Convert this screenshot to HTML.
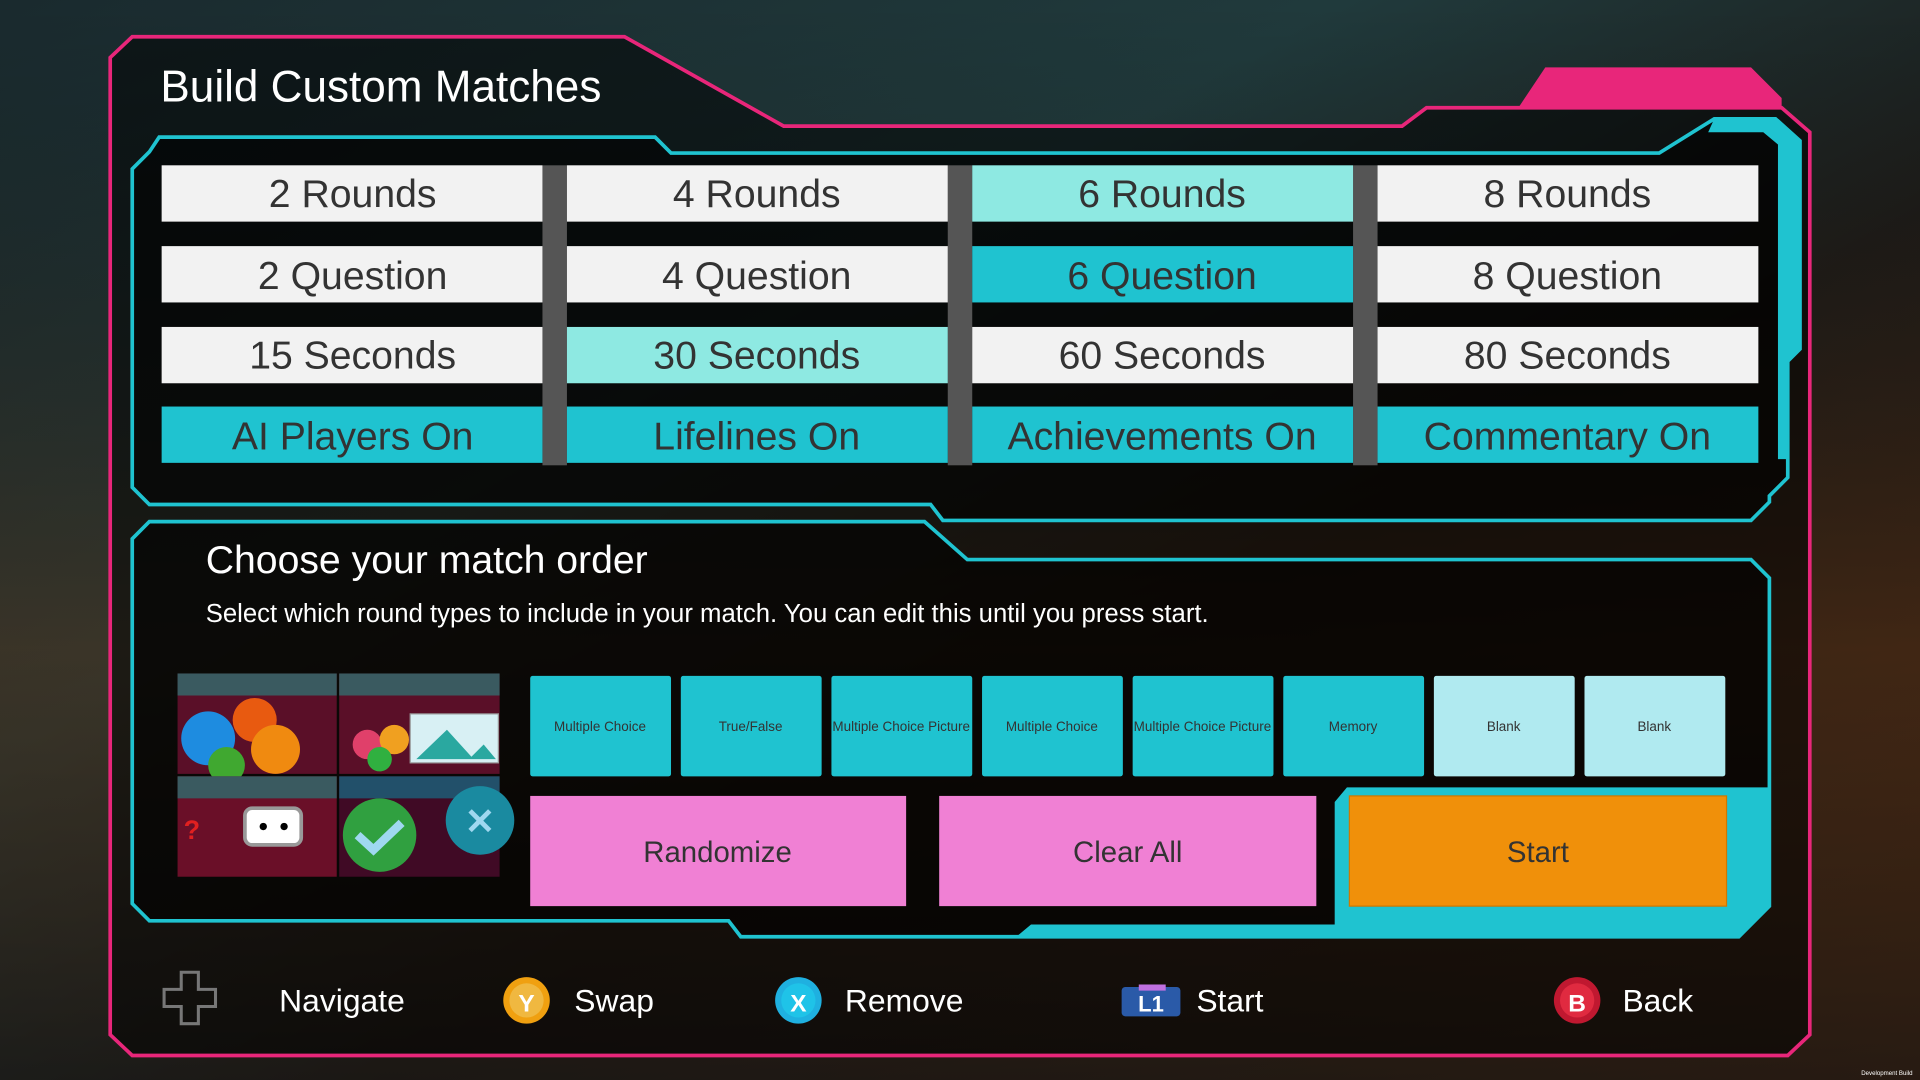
<!DOCTYPE html>
<html><head><meta charset="utf-8"><style>
html,body{margin:0;padding:0;background:#0b0d10;}
svg{display:block}
text{font-family:"Liberation Sans",sans-serif}
</style></head><body>
<svg width="1920" height="1080" viewBox="0 0 1568 882" preserveAspectRatio="none" xmlns="http://www.w3.org/2000/svg">
<defs>
<linearGradient id="bg" x1="0" y1="0" x2="1" y2="1">
<stop offset="0" stop-color="#1a2a2e"/><stop offset="0.35" stop-color="#203a3c"/><stop offset="0.6" stop-color="#1c1c1a"/><stop offset="1" stop-color="#3a2414"/>
</linearGradient>
<linearGradient id="bg2" x1="0" y1="0" x2="0" y2="1">
<stop offset="0" stop-color="#000" stop-opacity="0"/><stop offset="0.6" stop-color="#5a2e10" stop-opacity="0.45"/><stop offset="1" stop-color="#1a1410" stop-opacity="0.6"/>
</linearGradient>
</defs>
<rect width="1568" height="882" fill="url(#bg)"/>
<rect width="1568" height="882" fill="url(#bg2)"/>
<path d="M90,47 L108,30 L510,30 L640,103 L1145,103 L1165,88 L1455,88 L1478,108 L1478,845 L1460,862 L108,862 L90,845 Z" fill="#000" fill-opacity="0.5"/>
<path d="M90,47 L108,30 L510,30 L640,103 L1145,103 L1165,88 L1455,88 L1478,108 L1478,845 L1460,862 L108,862 L90,845 Z" fill="none" stroke="#e8267a" stroke-width="3"/>
<path d="M1240,88 L1262,55 L1430,55 L1455,80 L1455,88 Z" fill="#e8267a"/>
<path d="M108,138 L122,124 L130,112 L535,112 L548,125 L1355,125 L1400,97 L1450,97 L1470,115 L1470,285 L1460,295 L1460,390 L1445,405 L1445,410 L1430,425 L770,425 L760,412 L122,412 L108,398 Z" fill="#000" fill-opacity="0.55" stroke="#1fc3d0" stroke-width="3"/>
<path d="M1400,97 L1450,97 L1470,115 L1470,285 L1460,295 L1460,375 L1452,375 L1452,118 L1440,108 L1395,108 Z" fill="#1fc3d0"/>
<path d="M108,440 L122,426 L755,426 L790,457 L1430,457 L1445,472 L1445,740 L1420,765 L605,765 L595,752 L122,752 L108,738 Z" fill="#000" fill-opacity="0.6" stroke="#1fc3d0" stroke-width="3"/>
<path d="M1090,655 L1100,643 L1445,643 L1445,740 L1420,765 L830,765 L842,755 L1090,755 Z" fill="#1fc3d0"/>
<text x="131" y="83" font-size="36" fill="#fff">Build Custom Matches</text>
<g font-size="32" fill="#333" text-anchor="middle">
<rect x="443" y="135" width="20" height="245" fill="#555"/>
<rect x="774" y="135" width="20" height="245" fill="#555"/>
<rect x="1105" y="135" width="20" height="245" fill="#555"/>
<rect x="132" y="135" width="311" height="46" fill="#f2f2f2"/><text x="288" y="169">2 Rounds</text>
<rect x="463" y="135" width="311" height="46" fill="#f2f2f2"/><text x="618" y="169">4 Rounds</text>
<rect x="794" y="135" width="311" height="46" fill="#8ee9e2"/><text x="949" y="169">6 Rounds</text>
<rect x="1125" y="135" width="311" height="46" fill="#f2f2f2"/><text x="1280" y="169">8 Rounds</text>
<rect x="132" y="201" width="311" height="46" fill="#f2f2f2"/><text x="288" y="236">2 Question</text>
<rect x="463" y="201" width="311" height="46" fill="#f2f2f2"/><text x="618" y="236">4 Question</text>
<rect x="794" y="201" width="311" height="46" fill="#1fc3d0"/><text x="949" y="236">6 Question</text>
<rect x="1125" y="201" width="311" height="46" fill="#f2f2f2"/><text x="1280" y="236">8 Question</text>
<rect x="132" y="267" width="311" height="46" fill="#f2f2f2"/><text x="288" y="301">15 Seconds</text>
<rect x="463" y="267" width="311" height="46" fill="#8ee9e2"/><text x="618" y="301">30 Seconds</text>
<rect x="794" y="267" width="311" height="46" fill="#f2f2f2"/><text x="949" y="301">60 Seconds</text>
<rect x="1125" y="267" width="311" height="46" fill="#f2f2f2"/><text x="1280" y="301">80 Seconds</text>
<rect x="132" y="332" width="311" height="46" fill="#1fc3d0"/><text x="288" y="367">AI Players On</text>
<rect x="463" y="332" width="311" height="46" fill="#1fc3d0"/><text x="618" y="367">Lifelines On</text>
<rect x="794" y="332" width="311" height="46" fill="#1fc3d0"/><text x="949" y="367">Achievements On</text>
<rect x="1125" y="332" width="311" height="46" fill="#1fc3d0"/><text x="1280" y="367">Commentary On</text>
</g>
<text x="168" y="468" font-size="32" fill="#fff">Choose your match order</text>
<text x="168" y="508" font-size="21" fill="#fff">Select which round types to include in your match. You can edit this until you press start.</text>
<rect x="145" y="550" width="130" height="82" fill="#5a0f28"/><rect x="145" y="550" width="130" height="18" fill="#3a5a60"/>
<circle cx="170" cy="603" r="22" fill="#1e8ce0"/><circle cx="208" cy="588" r="18" fill="#e85a10"/><circle cx="225" cy="612" r="20" fill="#f08a10"/><circle cx="185" cy="625" r="15" fill="#40a830"/>
<rect x="277" y="550" width="131" height="82" fill="#5a0f28"/><rect x="277" y="550" width="131" height="18" fill="#3a5a60"/>
<circle cx="300" cy="608" r="12" fill="#e0406a"/><circle cx="322" cy="604" r="12" fill="#f0a020"/><circle cx="310" cy="620" r="10" fill="#30b040"/><rect x="335" y="583" width="72" height="40" fill="#d8f0f4" stroke="#999"/><path d="M340,620 L365,596 L385,618 L395,608 L405,620Z" fill="#2aa8a0"/>
<rect x="145" y="634" width="130" height="82" fill="#6a0f28"/><rect x="145" y="634" width="130" height="18" fill="#3a5a60"/>
<rect x="200" y="660" width="46" height="30" rx="6" fill="#fff" stroke="#999" stroke-width="3"/><circle cx="215" cy="675" r="3" fill="#000"/><circle cx="232" cy="675" r="3" fill="#000"/><text x="150" y="685" font-size="22" font-weight="bold" fill="#e02020">?</text>
<rect x="277" y="634" width="131" height="82" fill="#400a25"/><rect x="277" y="634" width="131" height="18" fill="#22506a"/>
<circle cx="310" cy="682" r="30" fill="#30a040"/><path d="M292,682 L305,694 L328,672" stroke="#9fd8f0" stroke-width="7" fill="none"/><circle cx="392" cy="670" r="28" fill="#1a8aa0"/><text x="392" y="681" font-size="30" font-weight="bold" fill="#9fd8f0" text-anchor="middle">✕</text>
<g font-size="11" fill="#333" text-anchor="middle">
<rect x="433" y="552" width="115" height="82" rx="2" fill="#1fc3d0"/><text x="490" y="597">Multiple Choice</text>
<rect x="556" y="552" width="115" height="82" rx="2" fill="#1fc3d0"/><text x="613" y="597">True/False</text>
<rect x="679" y="552" width="115" height="82" rx="2" fill="#1fc3d0"/><text x="736" y="597">Multiple Choice Picture</text>
<rect x="802" y="552" width="115" height="82" rx="2" fill="#1fc3d0"/><text x="859" y="597">Multiple Choice</text>
<rect x="925" y="552" width="115" height="82" rx="2" fill="#1fc3d0"/><text x="982" y="597">Multiple Choice Picture</text>
<rect x="1048" y="552" width="115" height="82" rx="2" fill="#1fc3d0"/><text x="1105" y="597">Memory</text>
<rect x="1171" y="552" width="115" height="82" rx="2" fill="#b0eaf0"/><text x="1228" y="597">Blank</text>
<rect x="1294" y="552" width="115" height="82" rx="2" fill="#b0eaf0"/><text x="1351" y="597">Blank</text>
</g>
<g font-size="24" fill="#333" text-anchor="middle">
<rect x="433" y="650" width="307" height="90" fill="#f080d4"/><text x="586" y="704">Randomize</text>
<rect x="767" y="650" width="308" height="90" fill="#f080d4"/><text x="921" y="704">Clear All</text>
<rect x="1102" y="650" width="308" height="90" fill="#f0900a" stroke="#d07800"/><text x="1256" y="704">Start</text>
</g>
<g fill="none" stroke="#777" stroke-width="2.5">
<path d="M148,794 h14 v14 h14 v14 h-14 v14 h-14 v-14 h-14 v-14 h14 z"/>
</g>
<g font-size="26" fill="#fff">
<text x="228" y="826">Navigate</text>
<text x="469" y="826">Swap</text>
<text x="690" y="826">Remove</text>
<text x="977" y="826">Start</text>
<text x="1325" y="826">Back</text>
</g>
<circle cx="430" cy="817" r="19" fill="#f0a010"/><circle cx="430" cy="817" r="14" fill="#f0b840"/><text x="430" y="826" font-size="20" font-weight="bold" fill="#fff" text-anchor="middle">Y</text>
<circle cx="652" cy="817" r="19" fill="#1fb0e0"/><circle cx="652" cy="817" r="14" fill="#1fc3e8"/><text x="652" y="826" font-size="20" font-weight="bold" fill="#fff" text-anchor="middle">X</text>
<rect x="916" y="806" width="48" height="24" rx="3" fill="#2a5aa8"/><rect x="930" y="804" width="22" height="5" fill="#c070e0"/><text x="940" y="826" font-size="18" font-weight="bold" fill="#fff" text-anchor="middle">L1</text>
<circle cx="1288" cy="817" r="19" fill="#c01830"/><circle cx="1288" cy="817" r="14" fill="#e02a40"/><text x="1288" y="826" font-size="20" font-weight="bold" fill="#fff" text-anchor="middle">B</text>
<text x="1520" y="878" font-size="5" fill="#fff">Development Build</text>
</svg>
</body></html>
